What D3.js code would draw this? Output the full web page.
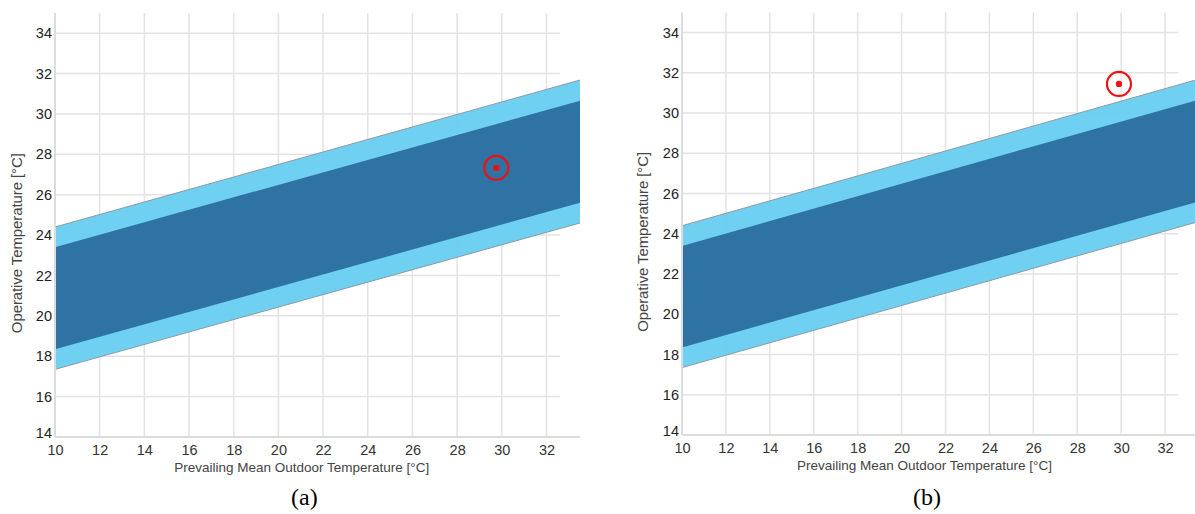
<!DOCTYPE html>
<html>
<head>
<meta charset="utf-8">
<script src="https://cdn.jsdelivr.net/npm/d3@7"></script>
<style>
  body { margin: 0; background: #fff; }
  svg { display: block; }
</style>
</head>
<body>
<svg id="chart" width="1195" height="514"></svg>
<script>
// band edges, read at the two ends of the x range
const outdoorTemps = [10, 33.5];
const upper80 = [24.4, 31.68];
const upper90 = [23.4, 30.66];
const lower90 = [18.35, 25.6];
const lower80 = [17.35, 24.6];

const xTicks = [10, 12, 14, 16, 18, 20, 22, 24, 26, 28, 30, 32];
const yTicks = [14, 16, 18, 20, 22, 24, 26, 28, 30, 32, 34];

const captions = ["(a)", "(b)"];
const pointX = [29.75, 29.9];
const pointY = [27.33, 31.45];

const panels = [
  {left: 55, top: 13, width: 525, height: 424, titleX: 17},
  {left: 682, top: 12.5, width: 516, height: 422.5, titleX: 643}
];

const svg = d3.select("#chart");
const font = "'Liberation Sans', Arial, sans-serif";

panels.forEach((p, i) => {
  const g = svg.append("g").attr("transform", `translate(${p.left},${p.top})`);

  const x = d3.scaleLinear().domain([10, 33.5]).range([0, p.width]);
  const y = d3.scaleLinear().domain([14, 35]).range([p.height, 0]);
  const gridRight = x(32.6);

  // grid
  g.append("g").selectAll("line")
    .data(yTicks.slice(1))
    .join("line")
    .attr("x1", 0).attr("x2", gridRight)
    .attr("y1", d => y(d)).attr("y2", d => y(d))
    .attr("stroke", "#e3e3e3").attr("stroke-width", 1.5);
  g.append("g").selectAll("line")
    .data(xTicks.slice(1))
    .join("line")
    .attr("x1", d => x(d)).attr("x2", d => x(d))
    .attr("y1", 0).attr("y2", p.height)
    .attr("stroke", "#e3e3e3").attr("stroke-width", 1.5);

  // bands
  const band = (hi, lo) => d3.area()
    .x((d, k) => x(d))
    .y0((d, k) => y(lo[k]))
    .y1((d, k) => y(hi[k]))(outdoorTemps);

  g.append("path")
    .attr("d", band(upper80, lower80))
    .attr("fill", "#68cdf0").attr("fill-opacity", 0.95);
  g.append("path")
    .attr("d", band(upper90, lower90))
    .attr("fill", "#2a6e9e").attr("fill-opacity", 0.95);

  const edge = d3.line().x((d, k) => x(d));
  [upper80, lower80].forEach(arr => {
    g.append("path")
      .attr("d", edge.y((d, k) => y(arr[k]))(outdoorTemps))
      .attr("fill", "none").attr("stroke", "#8a9aa4").attr("stroke-width", 1);
  });

  // axis lines
  g.append("line")
    .attr("x1", 0).attr("x2", 0).attr("y1", 0).attr("y2", p.height)
    .attr("stroke", "#dcdcdc").attr("stroke-width", 2);
  g.append("line")
    .attr("x1", 0).attr("x2", p.width).attr("y1", p.height).attr("y2", p.height)
    .attr("stroke", "#dcdcdc").attr("stroke-width", 2);

  // tick labels
  const xAxis = g.append("g")
    .attr("transform", `translate(0,${p.height})`)
    .call(d3.axisBottom(x).tickValues(xTicks).tickSize(0).tickPadding(8));
  const yAxis = g.append("g")
    .call(d3.axisLeft(y).tickValues(yTicks).tickSize(0).tickPadding(3));
  [xAxis, yAxis].forEach(a => {
    a.select(".domain").remove();
    a.selectAll("text")
      .attr("font-family", font).attr("font-size", 14.5).attr("fill", "#333");
  });
  yAxis.selectAll("text").attr("fill", "#222");
  yAxis.selectAll("text").filter(d => d === 14).attr("dy", "0.05em");

  // axis titles
  g.append("text")
    .attr("x", p.width * 0.47).attr("y", p.height + 35)
    .attr("text-anchor", "middle")
    .attr("font-family", font).attr("font-size", 13.5).attr("fill", "#444")
    .text("Prevailing Mean Outdoor Temperature [°C]");
  svg.append("text")
    .attr("transform", `translate(${p.titleX},${p.top + y(23.6)}) rotate(-90)`)
    .attr("text-anchor", "middle").attr("dy", "0.35em")
    .attr("font-family", font).attr("font-size", 15).attr("fill", "#444")
    .attr("textLength", 180).attr("lengthAdjust", "spacing")
    .text("Operative Temperature [°C]");

  // marker
  g.append("circle")
    .attr("cx", x(pointX[i])).attr("cy", y(pointY[i])).attr("r", 12)
    .attr("fill", "none").attr("stroke", "#ee1111").attr("stroke-width", 2.2);
  g.append("circle")
    .attr("cx", x(pointX[i])).attr("cy", y(pointY[i])).attr("r", 3.2)
    .attr("fill", "#ee1111");

  // caption
  svg.append("text")
    .attr("x", p.left + p.width * 0.475).attr("y", 505)
    .attr("text-anchor", "middle")
    .attr("font-family", "'Liberation Serif', 'Times New Roman', serif")
    .attr("font-size", 24).attr("fill", "#000")
    .text(captions[i]);
});
</script>
</body>
</html>
